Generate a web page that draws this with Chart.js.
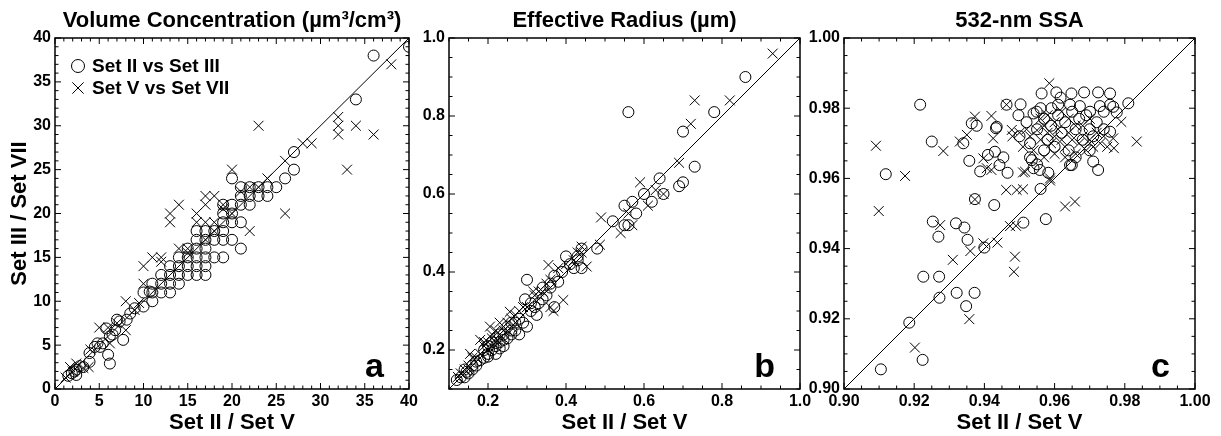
<!DOCTYPE html>
<html>
<head>
<meta charset="utf-8">
<script src="https://cdn.jsdelivr.net/npm/chart.js@4.4.0/dist/chart.umd.min.js"></script>
<style>
  body { margin: 0; background: #fff; }
  canvas { position: absolute; left: 0; top: 0; }
</style>
</head>
<body>
<canvas id="chartA" width="1221" height="436"></canvas>
<canvas id="chartB" width="1221" height="436"></canvas>
<canvas id="chartC" width="1221" height="436"></canvas>
<script>
// Series labels
const seriesLabels = ['Set II vs Set III', 'Set V vs Set VII'];

// (a) Volume concentration
const volTicks = [0, 5, 10, 15, 20, 25, 30, 35, 40];
const volSet2 = [40, 36, 34, 27, 27, 26, 25, 24, 24, 23, 23, 22, 22, 22, 21, 21, 21, 20, 20, 20, 19, 19, 19, 20, 21,
  16, 17, 18, 19, 17, 19, 20, 16, 16, 17, 21, 14, 15, 16, 17, 18, 19, 13, 14, 15, 16, 17, 12, 13, 14, 15, 16,
  11, 12, 13, 14, 10, 11, 12, 13, 11, 10, 9, 8.5, 8.1, 7.3, 6.8, 5.8, 6.2, 5.1, 5.4, 6, 6.2, 7.7, 4.5, 3.9, 3.9,
  3.2, 2.4, 1.9, 2.4, 1.5, 2.8, 2.2, 4.8, 6.5, 7, 15, 18, 17, 10.7];
const volSet3 = [39, 38, 33, 27, 25, 24, 23, 23, 22, 22, 23, 23, 22, 21, 23, 22, 21, 24, 21, 20, 20, 21, 19, 19, 19,
  18, 18, 18, 18, 17, 17, 17, 17, 16, 16, 16, 15, 15, 15, 15, 15, 15, 14, 14, 14, 14, 14, 13, 13, 13, 13, 13,
  12, 12, 12, 12, 11, 11, 11, 11, 10, 9.4, 9.2, 8.6, 7.9, 7.7, 6.7, 6.9, 6, 4.8, 5.2, 3.9, 2.9, 5.6, 4.8, 4.1, 3.1,
  2.5, 2.2, 1.8, 1.6, 1.5, 2.6, 2, 5.2, 6.2, 7.9, 16, 17, 13, 11.1];
const volSet5 = [38, 32, 32, 32, 34, 36, 33, 29, 28, 23, 26, 24, 20, 26, 23, 17, 18, 17, 13, 14, 13, 16, 16, 17, 21,
  22, 18, 17, 14, 11, 10, 12, 12, 10, 8, 9, 5, 6, 6.2, 8, 1.7, 2.4, 3.2, 3.8, 15, 19, 22, 20, 18, 7, 4, 2, 1.2,
  9.5, 15, 19];
const volSet7 = [37, 31, 30, 29, 30, 29, 25, 28, 28, 30, 26, 24, 25, 20, 23, 22, 22, 21, 20, 21, 19, 20, 19, 19, 22.5,
  18, 19, 17, 16, 15, 14, 14.5, 15, 12, 10, 9, 7, 7, 5.2, 6.7, 2.5, 2.9, 2.4, 2.5, 16, 21, 23, 20, 18, 7.5, 4.5, 2, 1.3,
  9.8, 15.5, 20.5];

// (b) Effective radius
const reffTicks = [0.2, 0.4, 0.6, 0.8, 1.0];
const reffSet2 = [0.86, 0.78, 0.56, 0.70, 0.73, 0.70, 0.69, 0.64, 0.60, 0.65, 0.62, 0.55, 0.57, 0.58, 0.52, 0.55, 0.56,
  0.48, 0.40, 0.43, 0.44, 0.42, 0.44, 0.37, 0.38, 0.36, 0.30, 0.37, 0.34, 0.325, 0.295, 0.30, 0.28, 0.27, 0.26, 0.24,
  0.23, 0.20, 0.18, 0.145, 0.12, 0.13, 0.14, 0.15, 0.16, 0.17, 0.19, 0.20, 0.21, 0.22, 0.22, 0.23, 0.24, 0.25, 0.25,
  0.26, 0.27, 0.28, 0.29, 0.31, 0.32, 0.33, 0.35, 0.36, 0.39, 0.41, 0.43, 0.21, 0.23, 0.19, 0.17, 0.20, 0.24, 0.26,
  0.31, 0.34, 0.14, 0.16, 0.22];
const reffSet3 = [0.90, 0.81, 0.81, 0.76, 0.67, 0.63, 0.62, 0.64, 0.60, 0.60, 0.58, 0.57, 0.58, 0.55, 0.53, 0.52, 0.52,
  0.46, 0.44, 0.43, 0.41, 0.41, 0.46, 0.39, 0.375, 0.36, 0.38, 0.31, 0.33, 0.29, 0.33, 0.26, 0.24, 0.27, 0.25, 0.226,
  0.204, 0.183, 0.174, 0.144, 0.123, 0.13, 0.15, 0.14, 0.16, 0.17, 0.20, 0.21, 0.20, 0.21, 0.23, 0.22, 0.24, 0.23, 0.26,
  0.24, 0.25, 0.28, 0.27, 0.30, 0.31, 0.32, 0.34, 0.37, 0.40, 0.42, 0.44, 0.22, 0.24, 0.18, 0.16, 0.19, 0.21, 0.27,
  0.32, 0.36, 0.13, 0.15, 0.19];
const reffSet5 = [0.93, 0.73, 0.82, 0.72, 0.69, 0.59, 0.63, 0.65, 0.61, 0.49, 0.56, 0.487, 0.54, 0.57, 0.44, 0.453,
  0.355, 0.393, 0.368, 0.36, 0.316, 0.256, 0.205, 0.18, 0.154, 0.123, 0.13, 0.14, 0.15, 0.16, 0.17, 0.19, 0.20, 0.21,
  0.22, 0.23, 0.24, 0.25, 0.26, 0.27, 0.28, 0.30, 0.32, 0.33, 0.35, 0.38, 0.43, 0.42, 0.20, 0.22, 0.24, 0.21, 0.19,
  0.23, 0.25, 0.29, 0.34, 0.36, 0.18, 0.15, 0.40, 0.44];
const reffSet7 = [0.96, 0.84, 0.84, 0.78, 0.68, 0.63, 0.61, 0.60, 0.57, 0.54, 0.55, 0.47, 0.50, 0.52, 0.465, 0.414,
  0.418, 0.328, 0.30, 0.31, 0.35, 0.298, 0.26, 0.226, 0.19, 0.131, 0.14, 0.15, 0.16, 0.18, 0.18, 0.21, 0.22, 0.23,
  0.25, 0.24, 0.26, 0.27, 0.28, 0.29, 0.30, 0.31, 0.34, 0.35, 0.37, 0.41, 0.45, 0.43, 0.20, 0.22, 0.25, 0.24, 0.22,
  0.27, 0.25, 0.31, 0.35, 0.38, 0.19, 0.15, 0.42, 0.45];

// (c) 532-nm SSA
const ssaTicks = [0.90, 0.92, 0.94, 0.96, 0.98, 1.00];
const ssaSet2 = [0.9105, 0.9186, 0.9224, 0.9226, 0.9271, 0.9272, 0.9321, 0.9372, 0.9348, 0.94, 0.9253, 0.9269, 0.9319,
  0.9343, 0.9352, 0.9511, 0.9575, 0.9428, 0.9373, 0.9217, 0.9119, 0.925, 0.934, 0.9364, 0.9378, 0.9433, 0.9357,
  0.9388, 0.941, 0.9454, 0.9466, 0.9443, 0.956, 0.9582, 0.9649, 0.971, 0.9724, 0.981, 0.9563, 0.9605, 0.9648,
  0.9684, 0.9724, 0.9758, 0.9617, 0.9463, 0.9503, 0.9497, 0.954, 0.9549, 0.9591, 0.9644, 0.9672, 0.9701, 0.9729,
  0.9758, 0.9777, 0.9767, 0.974, 0.953, 0.955, 0.954, 0.9535, 0.9558, 0.9644, 0.970, 0.971, 0.9758, 0.9435, 0.943,
  0.952, 0.955, 0.957, 0.959, 0.961, 0.963, 0.965, 0.967, 0.969, 0.962, 0.966, 0.968, 0.958, 0.960, 0.964, 0.972,
  0.974, 0.950, 0.953, 0.957, 0.966, 0.970, 0.961, 0.956];
const ssaSet3 = [0.9056, 0.9189, 0.9083, 0.932, 0.932, 0.926, 0.9274, 0.9274, 0.9236, 0.9403, 0.9477, 0.9434, 0.9472,
  0.946, 0.9425, 0.9474, 0.9484, 0.9524, 0.9541, 0.981, 0.9612, 0.9705, 0.970, 0.9757, 0.975, 0.9743, 0.965,
  0.962, 0.9667, 0.966, 0.9616, 0.9638, 0.957, 0.9616, 0.9638, 0.9648, 0.9624, 0.9814, 0.9842, 0.9845, 0.9842,
  0.9845, 0.9845, 0.9842, 0.983, 0.981, 0.9811, 0.978, 0.9785, 0.979, 0.980, 0.981, 0.9806, 0.979, 0.9806,
  0.981, 0.9788, 0.9804, 0.979, 0.966, 0.964, 0.9629, 0.9652, 0.9624, 0.9638, 0.974, 0.972, 0.9733, 0.9747, 0.9676,
  0.976, 0.974, 0.977, 0.975, 0.978, 0.976, 0.979, 0.977, 0.978, 0.973, 0.974, 0.971, 0.971, 0.969, 0.968, 0.976,
  0.974, 0.972, 0.970, 0.968, 0.966, 0.968, 0.981, 0.980];
const ssaSet5 = [0.9099, 0.9202, 0.9274, 0.931, 0.936, 0.9357, 0.9397, 0.9437, 0.9473, 0.949, 0.9487, 0.9484, 0.963,
  0.9658, 0.9091, 0.9174, 0.9283, 0.933, 0.935, 0.9373, 0.942, 0.9425, 0.9397, 0.9407, 0.942, 0.9462, 0.9492, 0.951,
  0.951, 0.9585, 0.9587, 0.9834, 0.979, 0.9767, 0.9769, 0.9478, 0.9516, 0.9463, 0.9373, 0.948, 0.950, 0.952, 0.953,
  0.955, 0.956, 0.957, 0.958, 0.959, 0.960, 0.961, 0.962, 0.963, 0.964, 0.965, 0.966, 0.967, 0.968, 0.969, 0.970,
  0.971, 0.972, 0.973, 0.974, 0.975, 0.954, 0.957, 0.960, 0.963, 0.966, 0.951, 0.956, 0.960, 0.964, 0.968, 0.970,
  0.962, 0.958, 0.9587];
const ssaSet7 = [0.9507, 0.9118, 0.9467, 0.9368, 0.9393, 0.9199, 0.9415, 0.9417, 0.9464, 0.9465, 0.9377, 0.9334, 0.952,
  0.9534, 0.9693, 0.9607, 0.9678, 0.9705, 0.9724, 0.9776, 0.9778, 0.9714, 0.9657, 0.9629, 0.9624, 0.9567, 0.9567,
  0.9569, 0.9617, 0.9871, 0.9594, 0.9705, 0.9761, 0.9714, 0.9686, 0.9738, 0.9619, 0.981, 0.954, 0.972, 0.973, 0.974,
  0.972, 0.9737, 0.971, 0.975, 0.973, 0.970, 0.972, 0.974, 0.971, 0.969, 0.973, 0.971, 0.975, 0.970, 0.972, 0.968,
  0.971, 0.969, 0.973, 0.970, 0.972, 0.969, 0.968, 0.966, 0.967, 0.966, 0.967, 0.969, 0.977, 0.976, 0.977, 0.975,
  0.977, 0.979, 0.978, 0.960];

Chart.defaults.font.family = "'Liberation Sans', Arial, sans-serif";
Chart.defaults.color = '#000';

const pairs = (xs, ys) => xs.map((x, i) => ({ x: x, y: ys[i] }));

// frame, inward ticks, title, panel letter and legend
const decorations = {
  id: 'decorations',
  afterDatasetsDraw(chart, args, opts) {
    const { ctx, chartArea: a, scales: { x, y } } = chart;
    ctx.save();
    ctx.strokeStyle = '#000';
    ctx.lineWidth = 1.5;
    ctx.strokeRect(a.left, a.top, a.right - a.left, a.bottom - a.top);

    ctx.lineWidth = 1;
    const n = Math.round((opts.max - opts.min) / opts.minor);
    ctx.beginPath();
    for (let i = 0; i <= n; i++) {
      const v = opts.min + i * opts.minor;
      const major = opts.ticks.some(t => Math.abs(t - v) < opts.minor / 10);
      const len = major ? 6 : 3.5;
      const px = x.getPixelForValue(v), py = y.getPixelForValue(v);
      ctx.moveTo(px, a.bottom); ctx.lineTo(px, a.bottom - len);
      ctx.moveTo(px, a.top); ctx.lineTo(px, a.top + len);
      ctx.moveTo(a.left, py); ctx.lineTo(a.left + len, py);
      ctx.moveTo(a.right, py); ctx.lineTo(a.right - len, py);
    }
    ctx.stroke();

    ctx.fillStyle = '#000';
    ctx.font = "bold 22px 'Liberation Sans', Arial, sans-serif";
    ctx.textAlign = 'center';
    ctx.textBaseline = 'middle';
    ctx.fillText(opts.title, (a.left + a.right) / 2, 21);

    ctx.font = "bold 34px 'Liberation Sans', Arial, sans-serif";
    ctx.textAlign = 'right';
    ctx.textBaseline = 'alphabetic';
    ctx.fillText(opts.letter, a.right - 25, a.bottom - 12);

    if (opts.legend) {
      ctx.font = "bold 19px 'Liberation Sans', Arial, sans-serif";
      ctx.textAlign = 'left';
      ctx.textBaseline = 'middle';
      chart.data.datasets.forEach((ds, i) => {
        if (!ds.label) return;
        const ly = a.top + 28 + i * 22;
        ctx.fillStyle = 'rgba(0,0,0,0)';
        Chart.helpers.drawPoint(ctx, {
          pointStyle: ds.pointStyle, radius: ds.pointRadius + 1, borderWidth: 1, rotation: 0
        }, a.left + 23, ly);
        ctx.fillStyle = '#000';
        ctx.fillText(ds.label, a.left + 37, ly + 1);
      });
    }
    ctx.restore();
  }
};

function panel(id, o) {
  const tickFont = { size: 16, weight: 'bold' };
  const titleFont = { size: 22, weight: 'bold' };
  return new Chart(document.getElementById(id), {
    type: 'scatter',
    data: {
      datasets: [
        {
          label: seriesLabels[0], data: o.circles, pointStyle: 'circle', pointRadius: 5.5,
          pointBorderColor: '#000', pointBackgroundColor: 'rgba(0,0,0,0)', pointBorderWidth: 1
        },
        {
          label: seriesLabels[1], data: o.crosses, pointStyle: 'crossRot', pointRadius: 7,
          pointBorderColor: '#000', pointBackgroundColor: 'rgba(0,0,0,0)', pointBorderWidth: 1
        },
        {
          label: '', type: 'line', data: [{ x: o.min, y: o.min }, { x: o.max, y: o.max }],
          borderColor: '#000', borderWidth: 1, pointRadius: 0, fill: false
        }
      ]
    },
    options: {
      responsive: false,
      animation: false,
      events: [],
      layout: { padding: { left: o.padL, right: o.padR, top: 38, bottom: 0 } },
      plugins: {
        legend: { display: false },
        tooltip: { enabled: false },
        decorations: { title: o.title, letter: o.letter, legend: o.legend, ticks: o.ticks, min: o.min, max: o.max, minor: o.minor }
      },
      scales: {
        x: {
          type: 'linear', min: o.min, max: o.max,
          grid: { display: false, drawTicks: false }, border: { display: false },
          afterBuildTicks: s => { s.ticks = o.ticks.map(v => ({ value: v })); },
          afterFit: s => { s.height = 47; },
          ticks: { autoSkip: false, maxRotation: 0, padding: 3, font: tickFont, callback: v => v.toFixed(o.dec) },
          title: { display: true, text: 'Set II / Set V', font: titleFont, padding: { top: 0, bottom: 0 } }
        },
        y: {
          type: 'linear', min: o.min, max: o.max,
          grid: { display: false, drawTicks: false }, border: { display: false },
          afterBuildTicks: s => { s.ticks = o.ticks.map(v => ({ value: v })); },
          afterFit: s => { s.width = o.yW; },
          ticks: { autoSkip: false, padding: 4, font: tickFont, callback: v => v.toFixed(o.dec) },
          title: { display: o.yTitle, text: 'Set III / Set VII', font: titleFont, padding: { top: 7, bottom: 0 } }
        }
      }
    },
    plugins: [decorations]
  });
}

panel('chartA', {
  circles: pairs(volSet2, volSet3), crosses: pairs(volSet5, volSet7),
  min: 0, max: 40, ticks: volTicks, minor: 1, dec: 0,
  title: 'Volume Concentration (\u00b5m\u00b3/cm\u00b3)', letter: 'a', legend: true,
  padL: 0, padR: 812, yW: 55, yTitle: true
});
panel('chartB', {
  circles: pairs(reffSet2, reffSet3), crosses: pairs(reffSet5, reffSet7),
  min: 0.1, max: 1.0, ticks: reffTicks, minor: 0.05, dec: 1,
  title: 'Effective Radius (\u00b5m)', letter: 'b', legend: false,
  padL: 409, padR: 421, yW: 40, yTitle: false
});
panel('chartC', {
  circles: pairs(ssaSet2, ssaSet3), crosses: pairs(ssaSet5, ssaSet7),
  min: 0.90, max: 1.00, ticks: ssaTicks, minor: 0.005, dec: 2,
  title: '532-nm SSA', letter: 'c', legend: false,
  padL: 804, padR: 26, yW: 40, yTitle: false
});
</script>
</body>
</html>
